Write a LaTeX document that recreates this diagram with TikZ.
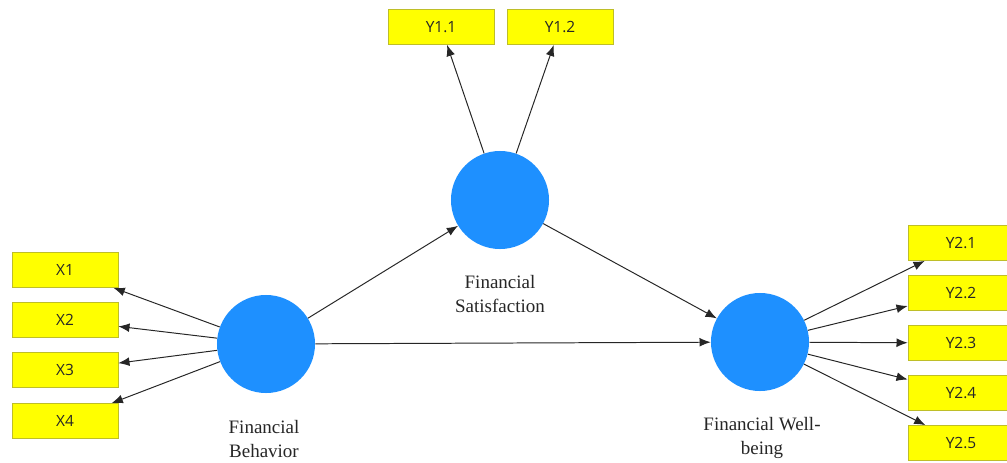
\documentclass[tikz,border=0pt]{standalone}
\usepackage{fontspec}
\setmainfont{Liberation Serif}
\newfontfamily\boxfont{Open Sans}
\usepackage{xcolor}
\usetikzlibrary{arrows.meta}

\definecolor{latblue}{RGB}{30,144,255}
\definecolor{indyellow}{RGB}{255,255,0}
\definecolor{indedge}{RGB}{190,190,40}

\begin{document}
\begin{tikzpicture}[x=0.025cm,y=-0.025cm,
  ind/.style={draw=indedge,fill=indyellow,line width=0.4pt,minimum width=2.65cm,minimum height=0.88cm,
              inner sep=0pt,font=\boxfont\fontsize{11}{12}\selectfont,text=black!85},
  lat/.style={circle,fill=latblue,minimum size=2.45cm,inner sep=0pt},
  lbl/.style={align=center,font=\fontsize{13.5}{17.5}\selectfont,text=black!85},
  arr/.style={-{Latex[length=2.8mm,width=2.2mm]},line width=0.7pt,black!85}]
\useasboundingbox (0,0) rectangle (1007,462);
\node[lat] (fb) at (266,344) {};
\node[lat] (fs) at (500,200) {};
\node[lat] (fw) at (760,342) {};
\node[lbl] (fblab) at (264,439) {Financial\\Behavior};
\node[lbl] (fslab) at (500,294) {Financial\\Satisfaction};
\node[lbl] (fwlab) at (762,438) {Financial Well-\\being};
\node[ind] (x1) at (65,270) {X1};
\node[ind] (x2) at (65,320) {X2};
\node[ind] (x3) at (65,370) {X3};
\node[ind] (x4) at (65,421) {X4};
\node[ind] (y11) at (441,27) {Y1.1};
\node[ind] (y12) at (560,27) {Y1.2};
\node[ind] (y21) at (961,243) {Y2.1};
\node[ind] (y22) at (961,293) {Y2.2};
\node[ind] (y23) at (961,343) {Y2.3};
\node[ind] (y24) at (961,393) {Y2.4};
\node[ind] (y25) at (961,443) {Y2.5};
\foreach \i in {1,...,4} \draw[arr] (fb) -- (x\i);
\foreach \i in {1,2} \draw[arr] (fs) -- (y1\i);
\foreach \i in {1,...,5} \draw[arr] (fw) -- (y2\i);
\draw[arr] (fb) -- (fs);
\draw[arr] (fb) -- (fw);
\draw[arr] (fs) -- (fw);
\end{tikzpicture}
\end{document}
